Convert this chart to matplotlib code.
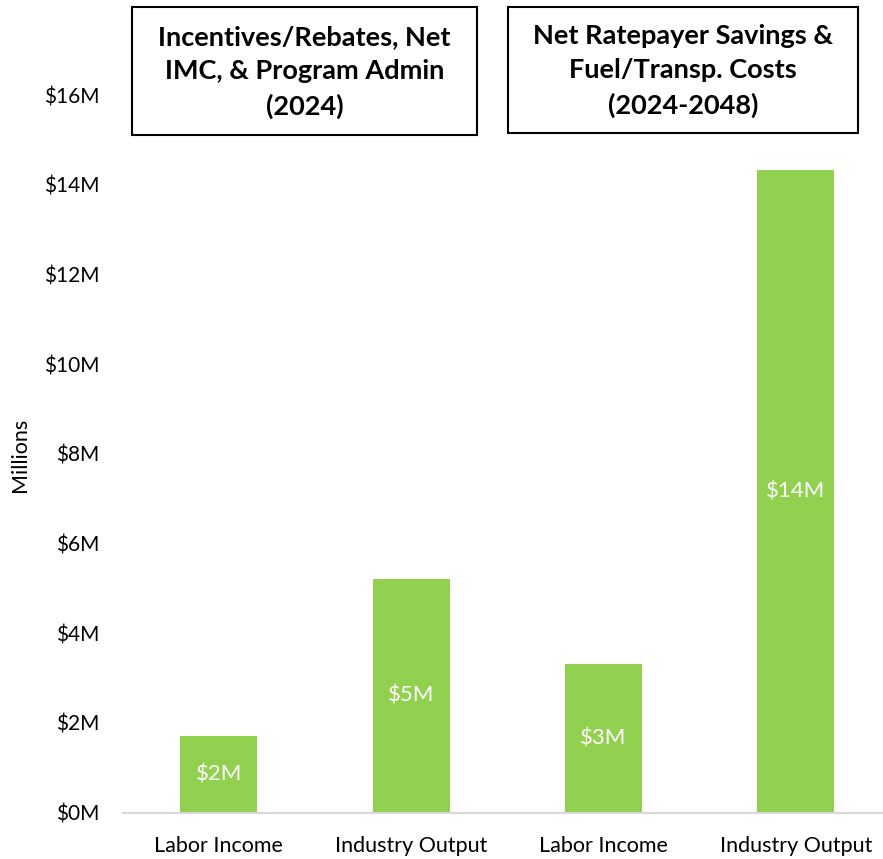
import matplotlib.pyplot as plt
from matplotlib.patches import Rectangle
from matplotlib.ticker import FuncFormatter

# ---------------------------
# DATA
# ---------------------------
categories = ["Labor Income", "Industry Output", "Labor Income", "Industry Output"]
values = [1.72, 5.21, 3.32, 14.32]  # $ millions
bar_labels = ["$2M", "$5M", "$3M", "$14M"]
box_titles = ["Incentives/Rebates, Net\nIMC, & Program Admin\n(2024)",
              "Net Ratepayer Savings &\nFuel/Transp. Costs\n(2024-2048)"]

plt.rcParams['font.family'] = ['Lato', 'DejaVu Sans']

W, H = 883, 859
fig = plt.figure(figsize=(W / 100, H / 100), dpi=100)
ax = fig.add_axes([122.75 / W, (H - 812.7) / H, (892 - 122.75) / W, (812.7 - 95) / H])

x = range(len(categories))
bars = ax.bar(x, values, width=0.4, color="#92D050")
for b, lab in zip(bars, bar_labels):
    ax.text(b.get_x() + b.get_width() / 2, b.get_height() / 2, lab,
            ha="center", va="center", color="white", fontsize=16)

ax.set_xlim(-0.5, 3.5)
ax.set_ylim(0, 16)
ax.set_yticks(range(0, 17, 2))
ax.yaxis.set_major_formatter(FuncFormatter(lambda v, p: f"${v:.0f}M"))
ax.set_xticks(list(x))
ax.set_xticklabels(categories)
ax.tick_params(axis="both", length=0, colors="black")
ax.tick_params(axis="y", pad=17, labelsize=15)
ax.tick_params(axis="x", pad=17, labelsize=15.5)
for s in ["top", "right", "left"]:
    ax.spines[s].set_visible(False)
ax.spines["bottom"].set_color("#D9D9D9")
ax.spines["bottom"].set_linewidth(1.5)

fig.text(20 / W, 1 - 455 / H, "Millions", rotation=90, ha="center", va="center", fontsize=15.5)

# title boxes
boxes = [(132, 7, 477, 135), (508, 7, 858, 133)]
for (x0, y0, x1, y1), title in zip(boxes, box_titles):
    fig.patches.append(Rectangle((x0 / W, 1 - y1 / H), (x1 - x0) / W, (y1 - y0) / H,
                                 transform=fig.transFigure, fill=False,
                                 edgecolor="black", linewidth=1.5))
    fig.text((x0 + x1) / 2 / W, 1 - (y0 + y1 + 2) / 2 / H, title, ha="center", va="center",
             fontsize=19.5, fontweight="bold", linespacing=1.5)

fig.savefig("out.png", dpi=100)
